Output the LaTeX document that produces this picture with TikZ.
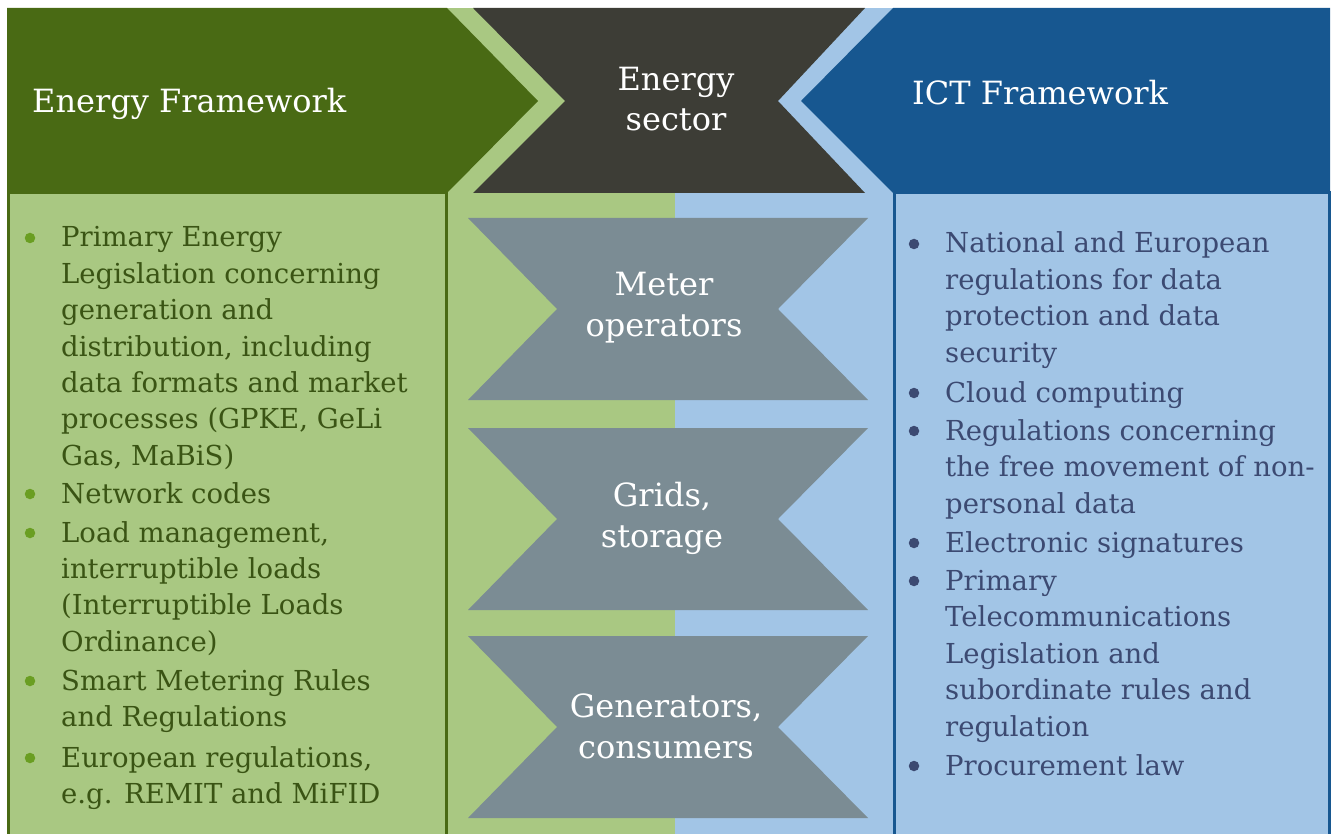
\documentclass[tikz,border=0pt]{standalone}
\usepackage{fontspec}
\setmainfont{DejaVu Serif}
\usepackage{tikz}
\definecolor{hdgreen}{RGB}{73,106,20}
\definecolor{bdgreen}{RGB}{169,200,130}
\definecolor{hdgray}{RGB}{61,61,54}
\definecolor{bdblue}{RGB}{162,197,230}
\definecolor{hdblue}{RGB}{23,87,144}
\definecolor{tiegray}{RGB}{123,140,148}
\definecolor{txgreen}{RGB}{58,84,20}
\definecolor{txblue}{RGB}{60,74,114}
\definecolor{dotgreen}{RGB}{106,158,34}

\begin{document}
\begin{tikzpicture}[x=1pt,y=-1pt]
\tikzstyle{every node}+=[inner sep=0pt]
\tikzstyle{head}=[text=white,anchor=base west,font=\fontsize{32}{40}\selectfont]
\tikzstyle{tie}=[text=white,align=center,font=\fontsize{32}{41}\selectfont]
\tikzstyle{enitem}=[anchor=base west,text=txgreen,font=\fontsize{27.5}{36.4}\selectfont]
\tikzstyle{ictitem}=[anchor=base west,text=txblue,font=\fontsize{27.5}{36.5}\selectfont]
\tikzstyle{endot}=[circle,fill=dotgreen,minimum size=10.5pt]
\tikzstyle{ictdot}=[circle,fill=txblue,minimum size=10.5pt]
\useasboundingbox (0,0) rectangle (1336,834);
% middle column
\fill [bdgreen] (447,8) rectangle (675,840);
\fill [bdblue] (675,8) rectangle (893,840);
% header arrows
\fill [hdgreen] (7,8) -- (447,8) -- (538,101) -- (447,193) -- (7,193) -- cycle;
\fill [hdgray] (473,8) -- (865,8) -- (778,101) -- (865,193) -- (473,193) -- (565,101) -- cycle;
\fill [hdblue] (893,8) -- (1330,8) -- (1330,193) -- (893,193) -- (801,101) -- cycle;
% body boxes
\draw [hdgreen, line width=3pt, fill=bdgreen] (8,193) rectangle (446,850);
\draw [hdblue, line width=3pt, fill=bdblue] (894,193) rectangle (1329,850);
% bow ties
\foreach \y in {309,519,727}
  \fill [tiegray] (468,\y-91) -- (868,\y-91) -- (778,\y) -- (868,\y+91) -- (468,\y+91) -- (557,\y) -- cycle;

\node [head] (enhead) at (32,113) {Energy Framework};
\node [head] (icthead) at (912,105) {ICT Framework};
\node [tie, font=\fontsize{32}{40}\selectfont] (sector) at (676,99) {Energy\\sector};
\node [tie] (meter) at (664,308) {Meter\\operators};
\node [tie] (grids) at (662,518) {Grids,\\storage};
\node [tie] (gens) at (666,726) {Generators,\\consumers};

% energy list
\node [enitem] (enA) at (61,247) {\parbox[t]{380pt}{Primary Energy\\Legislation concerning\\generation and\\distribution, including\\data formats and market\\processes (GPKE, GeLi\\Gas, MaBiS)}};
\node [enitem] (enB) at (61,503) {Network codes};
\node [enitem] (enC) at (61,542) {\parbox[t]{380pt}{Load management,\\interruptible loads\\(Interruptible Loads\\Ordinance)}};
\node [enitem] (enD) at (61,690) {\parbox[t]{380pt}{Smart Metering Rules\\and Regulations}};
\node [enitem] (enE) at (61,767) {\parbox[t]{380pt}{European regulations,\\e.g. REMIT and MiFID}};
\foreach \y/\n in {247/A,503/B,542/C,690/D,767/E}
  \node [endot] (endot\n) at (30,\y-9) {};

% ict list
\node [ictitem] (ictA) at (945,253) {\parbox[t]{380pt}{National and European\\regulations for data\\protection and data\\security}};
\node [ictitem] (ictB) at (945,402) {Cloud computing};
\node [ictitem] (ictC) at (945,440) {\parbox[t]{380pt}{Regulations concerning\\the free movement of non-\\personal data}};
\node [ictitem] (ictD) at (945,552) {Electronic signatures};
\node [ictitem] (ictE) at (945,590) {\parbox[t]{380pt}{Primary\\Telecommunications\\Legislation and\\subordinate rules and\\regulation}};
\node [ictitem] (ictF) at (945,775) {Procurement law};
\foreach \y/\n in {253/A,402/B,440/C,552/D,590/E,775/F}
  \node [ictdot] (ictdot\n) at (914,\y-9) {};
\end{tikzpicture}
\end{document}
